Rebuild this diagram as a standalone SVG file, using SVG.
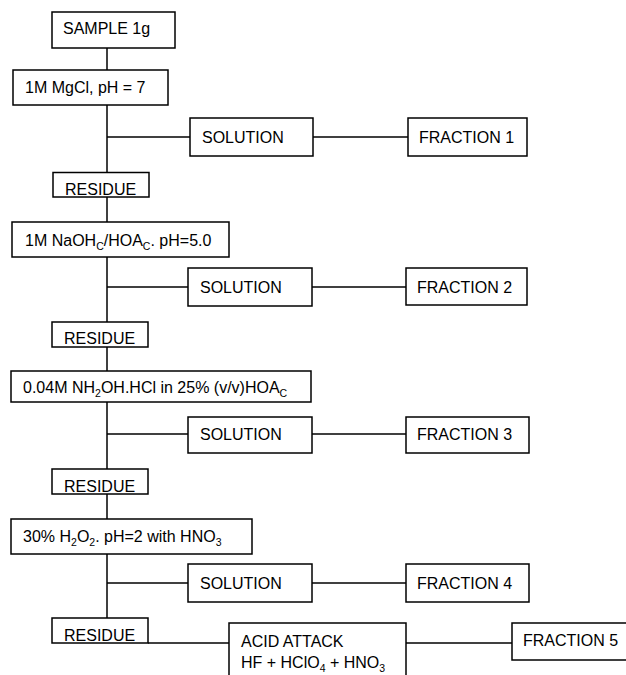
<svg xmlns="http://www.w3.org/2000/svg" width="626" height="675" viewBox="0 0 626 675">
<style>
rect{fill:#fff;stroke:#000;stroke-width:1.5}
line{stroke:#000;stroke-width:1.5}
text{font-family:"Liberation Sans",Arial,sans-serif;font-size:16px;fill:#000}
.s{font-size:10.5px}
</style>
<rect x="0" y="0" width="626" height="675" style="stroke:none"/>
<g id="connectors">
<line x1="107" y1="48" x2="107" y2="70"/>
<line x1="107" y1="105" x2="107" y2="173"/>
<line x1="107" y1="137" x2="190" y2="137"/>
<line x1="313" y1="137" x2="408" y2="137"/>
<line x1="107" y1="197" x2="107" y2="222"/>
<line x1="107" y1="257" x2="107" y2="322"/>
<line x1="107" y1="287" x2="188" y2="287"/>
<line x1="312" y1="287" x2="406" y2="287"/>
<line x1="107" y1="347" x2="107" y2="371"/>
<line x1="107" y1="402" x2="107" y2="469"/>
<line x1="107" y1="434" x2="188" y2="434"/>
<line x1="312" y1="434" x2="406" y2="434"/>
<line x1="107" y1="494" x2="107" y2="519"/>
<line x1="107" y1="554" x2="107" y2="618"/>
<line x1="107" y1="583" x2="188" y2="583"/>
<line x1="312" y1="583" x2="406" y2="583"/>
<line x1="148" y1="643" x2="229" y2="643"/>
<line x1="406" y1="643" x2="512" y2="643"/>
</g>
<g id="sample"><rect x="52" y="12" width="123" height="36"/><text x="63" y="34">SAMPLE 1g</text></g>
<g id="mgcl"><rect x="13" y="70" width="155" height="35"/><text x="25" y="93">1M MgCl, pH = 7</text></g>
<g id="solution1"><rect x="190" y="118" width="123" height="38"/><text x="202" y="143">SOLUTION</text></g>
<g id="fraction1"><rect x="408" y="118" width="119" height="38"/><text x="419" y="143">FRACTION 1</text></g>
<g id="residue1"><rect x="53" y="172.5" width="96" height="24.5"/><text x="65" y="195">RESIDUE</text></g>
<g id="naoh"><rect x="12" y="222" width="217" height="35"/><text x="25" y="246">1M NaOH<tspan class="s" dy="4">C</tspan><tspan dy="-4">/HOA</tspan><tspan class="s" dy="4">C</tspan><tspan dy="-4">. pH=5.0</tspan></text></g>
<g id="solution2"><rect x="188" y="268" width="124" height="38"/><text x="200" y="293">SOLUTION</text></g>
<g id="fraction2"><rect x="406" y="268" width="121" height="37"/><text x="417" y="293">FRACTION 2</text></g>
<g id="residue2"><rect x="52" y="322" width="96" height="25"/><text x="64" y="344">RESIDUE</text></g>
<g id="nh2oh"><rect x="11" y="371" width="300" height="31"/><text x="23" y="393">0.04M NH<tspan class="s" dy="4">2</tspan><tspan dy="-4">OH.HCl in 25% (v/v)HOA</tspan><tspan class="s" dy="4">C</tspan></text></g>
<g id="solution3"><rect x="188" y="417" width="124" height="36"/><text x="200" y="440">SOLUTION</text></g>
<g id="fraction3"><rect x="406" y="417" width="123" height="36"/><text x="417" y="440">FRACTION 3</text></g>
<g id="residue3"><rect x="52" y="469" width="96" height="25"/><text x="64" y="492">RESIDUE</text></g>
<g id="h2o2"><rect x="11" y="519" width="241" height="35"/><text x="23" y="542">30% H<tspan class="s" dy="4">2</tspan><tspan dy="-4">O</tspan><tspan class="s" dy="4">2</tspan><tspan dy="-4">. pH=2 with HNO</tspan><tspan class="s" dy="4">3</tspan></text></g>
<g id="solution4"><rect x="188" y="564" width="124" height="38"/><text x="200" y="589">SOLUTION</text></g>
<g id="fraction4"><rect x="406" y="564" width="123" height="38"/><text x="417" y="589">FRACTION 4</text></g>
<g id="residue4"><rect x="52" y="618" width="96" height="25"/><text x="64" y="641">RESIDUE</text></g>
<g id="acid"><rect x="229" y="623" width="177" height="60"/><text x="241" y="647">ACID ATTACK</text><text x="241" y="668">HF + HClO<tspan class="s" dy="4">4</tspan><tspan dy="-4"> + HNO</tspan><tspan class="s" dy="4">3</tspan></text></g>
<g id="fraction5"><rect x="512" y="623" width="120" height="37"/><text x="523" y="646">FRACTION 5</text></g>
</svg>
